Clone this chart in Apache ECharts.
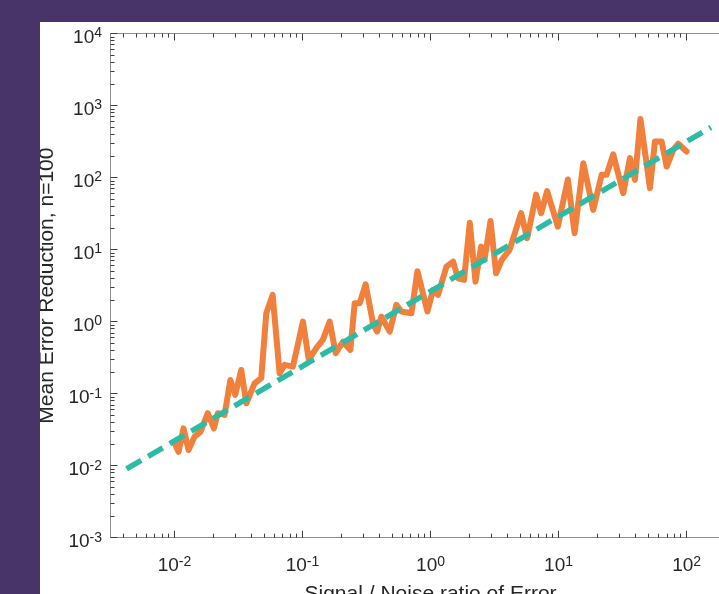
<!DOCTYPE html>
<html><head><meta charset="utf-8">
<script src="https://cdn.jsdelivr.net/npm/echarts@6/dist/echarts.min.js"></script>
<style>
html,body{margin:0;padding:0;width:719px;height:594px;overflow:hidden;background:#483468;}
#chart{position:absolute;left:40px;top:22px;width:679px;height:572px;background:#ffffff;}
</style></head><body><div id="chart"></div>
<script>
// ---- data ----
const snrValues = [0.01, 0.01075, 0.01176, 0.01287, 0.01434, 0.01597, 0.0182, 0.0203, 0.0218, 0.0246,
  0.0273, 0.0298, 0.0332, 0.0364, 0.0422, 0.0476, 0.0521, 0.0584, 0.0662, 0.0725,
  0.0841, 0.1007, 0.112, 0.128, 0.144, 0.163, 0.1815, 0.207, 0.2364, 0.2555,
  0.2795, 0.3113, 0.355, 0.382, 0.413, 0.48, 0.541, 0.592, 0.709, 0.79,
  0.9456, 1.046, 1.144, 1.331, 1.50, 1.64, 1.827, 2.025, 2.244, 2.482,
  2.639, 2.94, 3.25, 3.604, 4.14, 5.10, 5.68, 6.68, 7.31, 8.14,
  9.87, 11.82, 13.34, 15.6, 18.65, 21.7, 23.7, 26.7, 32.0, 36.1,
  39.5, 43.6, 51.7, 56.6, 63.9, 69.9, 78.7, 86.1, 100];
const errorReduction = [0.0205, 0.0156, 0.033, 0.0165, 0.0253, 0.0297, 0.0535, 0.033, 0.0535, 0.0506,
  0.155, 0.096, 0.213, 0.0736, 0.139, 0.164, 1.31, 2.35, 0.192, 0.251,
  0.237, 1.0, 0.294, 0.428, 0.557, 1.0, 0.364, 0.527, 0.405, 1.80,
  1.80, 3.3, 0.95, 0.726, 1.17, 0.726, 1.71, 1.38, 1.31, 5.0,
  1.38, 2.75, 2.35, 5.81, 6.81, 4.0, 3.80, 23.5, 3.59, 11.0,
  7.19, 25.0, 4.70, 7.19, 9.9, 32.0, 14.4, 58, 32.0, 65,
  20.8, 94, 16.9, 158, 35.6, 109, 109, 210, 60.7, 186,
  93, 650, 71.3, 316, 316, 142, 243, 295, 230];
const fitSnr = [0.00422, 155];
const fitError = [0.0090, 498];

// ---- axes / ticks ----
const xLogRange = [-2.5, 2.5];
const yLogRange = [-3, 4];
const xTickExponents = [-2, -1, 0, 1, 2];
const yTickExponents = [-3, -2, -1, 0, 1, 2, 3, 4];
const minorMantissas = [2, 3, 4, 5, 6, 7, 8, 9];

function minorTicks(range) {
  const out = [];
  for (let k = Math.floor(range[0]); k < range[1]; k++) {
    for (const m of minorMantissas) {
      const v = k + Math.log10(m);
      if (v > range[0] && v < range[1]) out.push(v);
    }
  }
  return out;
}

const FONT = '"Liberation Sans", Arial, Helvetica, sans-serif';
const axisColor = '#8c8c8c', tickColor = '#3c3c3c', textColor = '#262626';
const rich = {
  b: {fontSize: 19, fontFamily: FONT, color: textColor, lineHeight: 22},
  s: {fontSize: 14, fontFamily: FONT, color: textColor, lineHeight: 6, verticalAlign: 'top'}
};
function fmt(v) { return '{b|10}{s|' + Math.round(v) + '}'; }

function tickAxis(pos, range, values, len, label, showLine) {
  return {
    type: 'value', gridIndex: 0, position: pos, min: range[0], max: range[1],
    axisLine: {show: !!showLine, onZero: false, lineStyle: {color: axisColor, width: 1}},
    splitLine: {show: false},
    axisTick: {show: true, inside: true, length: len, customValues: values,
      lineStyle: {color: tickColor, width: 1}},
    axisLabel: label ? Object.assign({show: true, customValues: values, formatter: fmt, rich: rich}, label)
                     : {show: false}
  };
}

const chart = echarts.init(document.getElementById('chart'), null, {renderer: 'canvas'});
chart.setOption({
  animation: false,
  backgroundColor: '#ffffff',
  grid: {left: 70.5, top: 11.5, right: -31.6, bottom: 56.3, containLabel: false, outerBoundsMode: 'none'},
  xAxis: [
    {
      type: 'log', gridIndex: 0, position: 'bottom',
      min: Math.pow(10, xLogRange[0]), max: Math.pow(10, xLogRange[1]),
      axisLine: {show: true, onZero: false, lineStyle: {color: axisColor, width: 1}},
      axisTick: {show: false}, axisLabel: {show: false}, splitLine: {show: false},
      name: 'Signal / Noise ratio of Error', nameLocation: 'middle', nameGap: 46,
      nameTextStyle: {fontSize: 21, fontFamily: FONT, color: textColor}
    },
    tickAxis('bottom', xLogRange, xTickExponents, 7, {margin: 17}),
    tickAxis('bottom', xLogRange, minorTicks(xLogRange), 4, null),
    tickAxis('top', xLogRange, xTickExponents, 7, null, true),
    tickAxis('top', xLogRange, minorTicks(xLogRange), 4, null)
  ],
  yAxis: [
    {
      type: 'log', gridIndex: 0, position: 'left',
      min: Math.pow(10, yLogRange[0]), max: Math.pow(10, yLogRange[1]),
      axisLine: {show: true, onZero: false, lineStyle: {color: axisColor, width: 1}},
      axisTick: {show: false}, axisLabel: {show: false}, splitLine: {show: false},
      name: 'Mean Error Reduction, n=100', nameLocation: 'middle', nameGap: 53,
      nameTextStyle: {fontSize: 21, fontFamily: FONT, color: textColor}
    },
    tickAxis('left', yLogRange, yTickExponents, 7, {margin: 8.5, padding: [8, 0, 0, 0]}),
    tickAxis('left', yLogRange, minorTicks(yLogRange), 4, null)
  ],
  series: [
    {
      type: 'line', xAxisIndex: 0, yAxisIndex: 0, z: 2,
      data: snrValues.map((x, i) => [x, errorReduction[i]]),
      symbol: 'none', showSymbol: false,
      lineStyle: {color: '#F0803C', width: 6, join: 'round', cap: 'round'}
    },
    {
      type: 'line', xAxisIndex: 0, yAxisIndex: 0, z: 3,
      data: fitSnr.map((x, i) => [x, fitError[i]]),
      symbol: 'none', showSymbol: false,
      lineStyle: {color: '#2EBBA3', width: 5.5, type: [17, 8], cap: 'butt'}
    }
  ]
});
</script></body></html>
